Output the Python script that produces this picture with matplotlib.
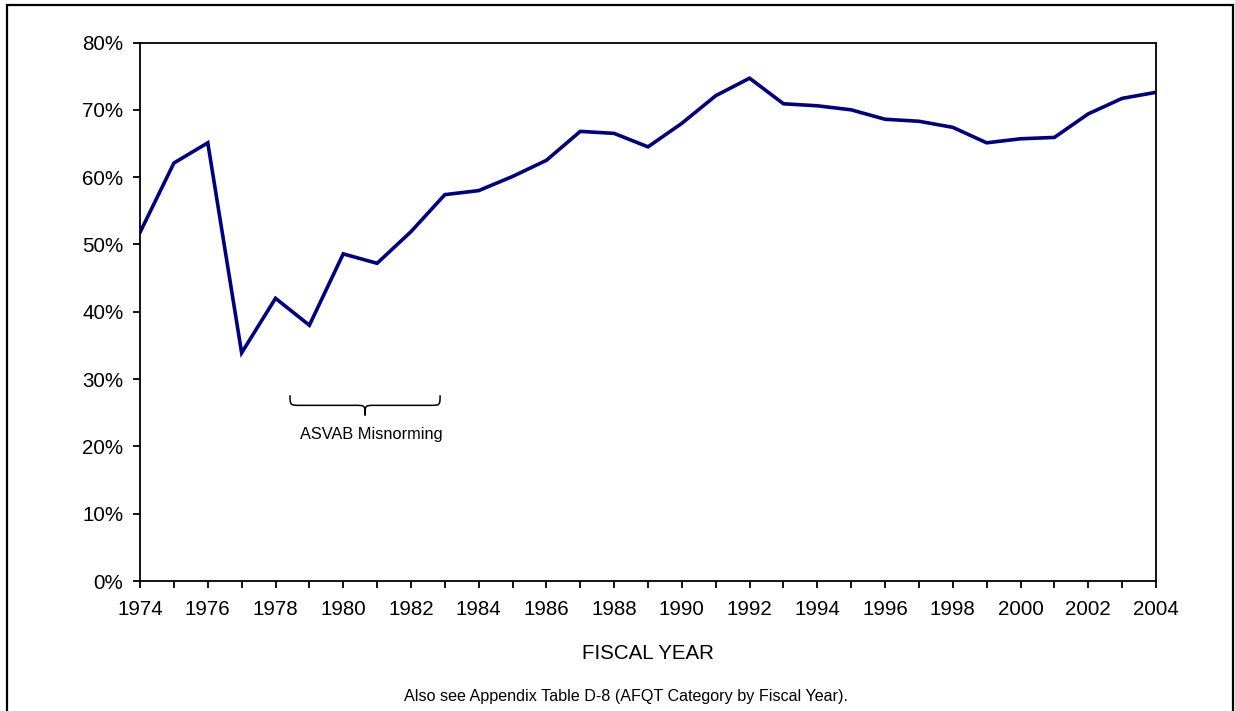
import matplotlib.pyplot as plt
from matplotlib.path import Path
from matplotlib.patches import PathPatch, Rectangle
from matplotlib.ticker import MultipleLocator, FuncFormatter

plt.rcParams['font.family'] = ['Liberation Sans', 'DejaVu Sans']

# share of recruits in AFQT categories I-IIIA, by fiscal year
years = list(range(1974, 2005))
pct = [51.8, 62.1, 65.1, 33.9, 42.0, 38.0, 48.6, 47.2, 51.9, 57.4,
       58.0, 60.1, 62.5, 66.8, 66.5, 64.5, 68.0, 72.1, 74.7, 70.9,
       70.6, 70.0, 68.6, 68.3, 67.4, 65.1, 65.7, 65.9, 69.4, 71.7,
       72.6]

# years covered by the misnorming note
misnorm_start = 1978.43
misnorm_end = 1982.86

fig = plt.figure(figsize=(12.35, 7.11), dpi=100)
ax = fig.add_axes([0.1134, 0.1828, 0.8226, 0.7574])

ax.plot(years, pct, color='#000080', linewidth=2.6, solid_joinstyle='miter')

ax.set_xlim(1974, 2004)
ax.set_ylim(0, 80)
ax.xaxis.set_major_locator(MultipleLocator(2))
ax.xaxis.set_minor_locator(MultipleLocator(1))
ax.yaxis.set_major_locator(MultipleLocator(10))
ax.yaxis.set_major_formatter(FuncFormatter(lambda v, p: '%d%%' % v))

for side in ax.spines.values():
    side.set_linewidth(1.3)
ax.tick_params(axis='both', which='both', direction='out', width=1.3,
               labelsize=14.8, colors='black')
ax.tick_params(axis='y', which='major', length=5, pad=7)
ax.tick_params(axis='x', which='major', length=5, pad=9)
ax.tick_params(axis='x', which='minor', length=5)

ax.set_xlabel('FISCAL YEAR', fontsize=14.8, labelpad=18)

# curly brace over the misnorming years
mid = (misnorm_start + misnorm_end) / 2
top, flat, tip = 27.6, 26.1, 24.6
r = 0.3
verts = [(misnorm_start, top),
         (misnorm_start, flat), (misnorm_start, flat), (misnorm_start + r, flat),
         (mid - r, flat),
         (mid, flat), (mid, flat), (mid, tip),
         (mid, flat), (mid, flat), (mid + r, flat),
         (misnorm_end - r, flat),
         (misnorm_end, flat), (misnorm_end, flat), (misnorm_end, top)]
codes = [Path.MOVETO,
         Path.CURVE4, Path.CURVE4, Path.CURVE4,
         Path.LINETO,
         Path.CURVE4, Path.CURVE4, Path.CURVE4,
         Path.CURVE4, Path.CURVE4, Path.CURVE4,
         Path.LINETO,
         Path.CURVE4, Path.CURVE4, Path.CURVE4]
ax.add_patch(PathPatch(Path(verts, codes), facecolor='none',
                       edgecolor='black', linewidth=1.1))
ax.text(mid + 0.17, 21.7, 'ASVAB Misnorming', fontsize=11.8,
        ha='center', va='center')

fig.text(625.5 / 1235, 1 - 697 / 711,
         'Also see Appendix Table D-8 (AFQT Category by Fiscal Year).',
         fontsize=11.6, ha='center', va='center')

# outer frame around the whole chart
fig.patches.append(Rectangle((7 / 1235, -0.05), (1233 - 7) / 1235, 1.05 - 5 / 711,
                             transform=fig.transFigure, fill=False,
                             edgecolor='black', linewidth=1.6))

fig.savefig('out.png', dpi=100)
